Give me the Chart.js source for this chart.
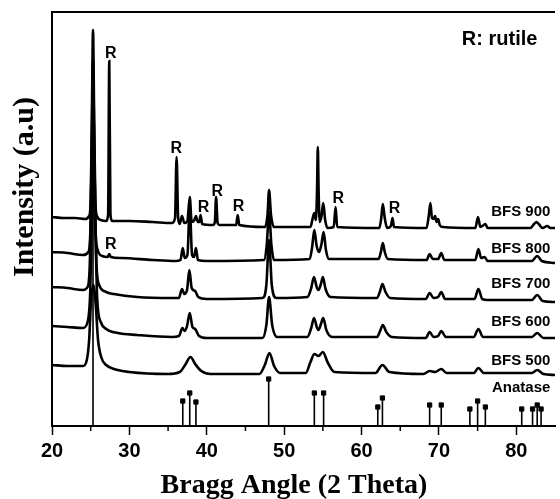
<!DOCTYPE html>
<html><head><meta charset="utf-8">
<script src="https://cdn.jsdelivr.net/npm/chart.js@4.4.1/dist/chart.umd.min.js"></script>
<style>html,body{margin:0;padding:0;background:#fff}canvas{display:block}</style>
</head><body>
<canvas id="c" width="560" height="499"></canvas>
<script>
// ---- data (2-theta, intensity a.u.) ----
const seriesNames = ['BFS 900','BFS 800','BFS 700','BFS 600','BFS 500'];
const seriesOffsets = [198, 163, 124, 88, 51];

const bfs900 = [[20,11],[21.5,10],[23,10],[24.3,9],[24.8,12],[25,28],[25.15,108],[25.3,198],[25.45,108],[25.6,28],[25.8,12],[26.3,8],[27,7],[27.25,13],[27.4,167],[27.55,13],[27.8,7],[30,7],[33,6],[35.5,5],[35.9,10],[36.1,71],[36.3,10],[36.5,4],[36.8,12],[37.1,5],[37.5,7],[37.8,31],[38.05,6],[38.4,8],[38.6,12],[38.85,6],[39.05,6],[39.2,13],[39.4,4],[40.8,3],[41.05,6],[41.2,31],[41.4,5],[41.6,3],[43.8,3],[44,13],[44.2,3],[47.5,1],[47.85,13],[48.05,38],[48.3,13],[48.7,1],[53.4,1],[53.7,10],[53.9,15],[54.1,8],[54.25,38],[54.35,81],[54.45,38],[54.6,6],[54.85,13],[55.05,25],[55.3,8],[55.6,0],[56.4,1],[56.65,21],[56.85,1],[62.3,0],[62.55,10],[62.75,24],[63,10],[63.3,0],[63.8,2],[64,10],[64.2,1],[68.4,0],[68.7,13],[68.9,25],[69.1,10],[69.3,9],[69.5,12],[69.7,6],[69.9,9],[70.1,3],[70.5,1],[74.7,0],[75.05,11],[75.35,1],[75.8,3],[76,4],[76.3,0],[81.8,0],[82.3,4],[82.6,6],[82.9,4],[83.4,0],[84,2],[84.4,0],[85,0]];

const bfs800 = [[20,11],[22,10],[24,8],[24.7,11],[25,43],[25.15,123],[25.3,203],[25.45,123],[25.6,38],[25.9,13],[26.5,7],[27.2,6],[27.4,9],[27.6,6],[29,5],[33,3],[36,2],[36.6,3],[36.9,15],[37.15,5],[37.5,8],[37.8,56],[38.1,8],[38.35,6],[38.6,15],[38.85,3],[40,2],[47.4,3],[47.75,18],[48.05,51],[48.35,18],[48.7,3],[53.3,4],[53.6,15],[53.9,33],[54.2,17],[54.5,11],[54.8,18],[55.1,31],[55.4,13],[55.8,4],[62.2,4],[62.5,11],[62.75,20],[63,11],[63.4,4],[68.4,3],[68.8,9],[69.2,4],[69.9,4],[70.3,10],[70.7,3],[74.7,3],[75.1,14],[75.45,5],[75.9,6],[76.3,2],[82,2],[82.7,7],[83.3,2],[85,0]];

const bfs700 = [[20,15],[22,14],[24,12],[24.6,15],[24.9,42],[25.15,152],[25.3,202],[25.5,132],[25.75,37],[26.1,17],[27,10],[28,8],[31,5],[35.5,4],[36.4,4],[36.8,13],[37.1,8],[37.45,12],[37.75,32],[38.05,14],[38.5,11],[38.9,5],[40,3],[47.2,4],[47.7,17],[48.05,62],[48.4,17],[49,4],[53,5],[53.5,14],[53.85,25],[54.2,15],[54.45,12],[54.75,18],[55,25],[55.35,13],[56,5],[62,4],[62.4,11],[62.7,18],[63.1,10],[63.7,4],[68.3,3],[68.8,9],[69.3,4],[69.9,5],[70.3,10],[70.8,3],[74.6,3],[75.1,13],[75.6,3],[76.3,2],[82,2],[82.7,7],[83.4,1],[85,0]];

const bfs600 = [[20,12],[22,11],[24,10],[24.6,16],[24.95,48],[25.2,138],[25.35,173],[25.55,128],[25.85,38],[26.3,16],[27,9],[28.5,5],[31,3],[35.5,1],[36.4,2],[36.85,10],[37.15,7],[37.45,12],[37.8,25],[38.15,11],[38.5,9],[39,2],[40,0],[47.2,0],[47.7,13],[48.05,41],[48.45,13],[49.1,1],[53,1],[53.5,10],[53.85,20],[54.25,10],[54.45,8],[54.75,14],[55.05,20],[55.45,8],[56.2,1],[62,1],[62.4,7],[62.75,13],[63.2,6],[63.9,1],[68.3,0],[68.8,6],[69.3,1],[69.9,2],[70.3,7],[70.9,1],[74.5,1],[75.1,9],[75.7,1],[82,1],[82.7,5],[83.5,0],[85,0]];

const bfs500 = [[20,10],[22,9],[24,9],[24.5,15],[24.8,35],[25.05,75],[25.35,90],[25.65,70],[25.95,35],[26.4,17],[27,10],[28,6],[30,3],[35,1],[36.5,3],[37.2,10],[37.9,18],[38.5,11],[39.3,4],[40.5,1],[46.8,1],[47.5,10],[48.1,22],[48.7,9],[49.5,2],[52.8,2],[53.4,13],[53.9,21],[54.45,19],[55,23],[55.6,13],[56.5,3],[61.8,2],[62.7,10],[63.6,3],[68,1],[68.8,4],[69.5,3],[70.3,6],[71,2],[74.5,2],[75.1,7],[75.8,2],[82,2],[82.7,5],[83.5,1],[85,0]];

const anataseAngles    = [25.3, 36.9, 37.8, 38.6, 48.0, 53.9, 55.1, 62.1, 62.7, 68.8, 70.3, 74.0, 75.0, 76.0, 80.7, 82.1, 82.7, 83.2];
const anataseIntensity = [390, 25, 33, 24, 47, 33, 33, 19, 28, 21, 21, 17, 25, 19, 17, 17, 21, 17];

const seriesLabelY = [214, 177.5, 142.5, 104, 65.5];
const anataseLabelY = 38;
const labelX = 84.4;

const rutileLabelX = [27.6, 36.06, 39.58, 41.37, 44.12, 56.98, 64.27, 27.61];
const rutileLabelY = [372, 277, 218.5, 234.5, 219, 227, 217, 181.5];
const legendX = 77.84, legendY = 387;

const xTicks = [20, 30, 40, 50, 60, 70, 80];
const xMinorTicks = [25, 35, 45, 55, 65, 75];

// ---- build datasets ----
const seriesData = [bfs900, bfs800, bfs700, bfs600, bfs500];
const datasets = seriesData.map((arr, i) => ({
  type: 'line',
  label: seriesNames[i],
  data: arr.map(([x, y]) => ({x, y: y + seriesOffsets[i]})),
  borderColor: '#000',
  borderWidth: 2.6,
  pointRadius: 0,
  fill: false,
  cubicInterpolationMode: 'monotone'
}));
const stickData = [];
anataseAngles.forEach((a, i) => {
  stickData.push({x: a, y: 0}, {x: a, y: anataseIntensity[i]}, {x: a, y: null});
});
datasets.push({
  type: 'line', label: 'Anatase sticks', data: stickData,
  borderColor: '#000', borderWidth: 1.6, pointRadius: 0, spanGaps: false, tension: 0
});
datasets.push({
  type: 'scatter', label: 'Anatase marks',
  data: anataseAngles.map((a, i) => ({x: a, y: anataseIntensity[i]})),
  pointStyle: 'rect',
  pointRadius: ctx => (ctx.dataIndex === 0 ? 0 : 3),
  pointBorderWidth: ctx => (ctx.dataIndex === 0 ? 0 : 1),
  backgroundColor: '#000', borderColor: '#000'
});

const decor = {
  id: 'decor',
  beforeDraw(chart) {
    const c = chart.ctx;
    c.save(); c.fillStyle = '#fff'; c.fillRect(0, 0, chart.width, chart.height); c.restore();
  },
  afterDraw(chart) {
    const c = chart.ctx, xs = chart.scales.x, ys = chart.scales.y, ca = chart.chartArea;
    c.save();
    // top frame line
    c.strokeStyle = '#000'; c.lineWidth = 2;
    c.beginPath(); c.moveTo(ca.left, ca.top); c.lineTo(ca.right, ca.top); c.stroke();
    // minor ticks
    c.lineWidth = 1.5;
    xMinorTicks.forEach(v => {
      const px = xs.getPixelForValue(v);
      c.beginPath(); c.moveTo(px, ca.bottom); c.lineTo(px, ca.bottom + 5); c.stroke();
    });
    // series labels
    c.fillStyle = '#000';
    c.font = 'bold 15px "Liberation Sans", Arial, sans-serif';
    c.textAlign = 'right'; c.textBaseline = 'middle';
    seriesNames.forEach((n, i) => c.fillText(n, xs.getPixelForValue(labelX), ys.getPixelForValue(seriesLabelY[i])));
    c.fillText('Anatase', xs.getPixelForValue(labelX), ys.getPixelForValue(anataseLabelY));
    // rutile labels
    c.textAlign = 'center';
    c.font = 'bold 16px "Liberation Sans", Arial, sans-serif';
    rutileLabelX.forEach((x, i) => c.fillText('R', xs.getPixelForValue(x), ys.getPixelForValue(rutileLabelY[i])));
    c.font = 'bold 20px "Liberation Sans", Arial, sans-serif';
    c.fillText('R: rutile', xs.getPixelForValue(legendX), ys.getPixelForValue(legendY));
    // axis titles
    c.font = 'bold 28px "Liberation Serif", "Times New Roman", serif';
    c.textBaseline = 'alphabetic';
    c.fillText('Bragg Angle (2 Theta)', 294, 493);
    c.translate(25, 187); c.rotate(-Math.PI / 2);
    c.font = 'bold 30px "Liberation Serif", "Times New Roman", serif';
    c.textBaseline = 'middle';
    c.fillText('Intensity (a.u)', 0, 0);
    c.restore();
  }
};

new Chart(document.getElementById('c'), {
  data: {datasets},
  options: {
    responsive: false, animation: false, devicePixelRatio: 1,
    layout: {padding: {top: 12, right: 0, left: 0, bottom: 0}},
    plugins: {legend: {display: false}, tooltip: {enabled: false}},
    scales: {
      x: {
        type: 'linear', position: 'bottom', min: 20, max: 85,
        afterFit(s) { s.height = 73; },
        afterBuildTicks(s) { s.ticks = xTicks.map(v => ({value: v})); },
        border: {display: true, color: '#000', width: 2},
        grid: {display: true, drawOnChartArea: false, drawTicks: true, tickLength: 9, tickColor: '#000', tickWidth: 1.5},
        ticks: {color: '#000', padding: 4, maxRotation: 0, autoSkip: false,
                font: {family: '"Liberation Sans", Arial, sans-serif', size: 20, weight: 'bold'}}
      },
      y: {
        type: 'linear', position: 'left', min: 0, max: 414,
        afterFit(s) { s.width = 52; },
        border: {display: true, color: '#000', width: 2},
        grid: {display: false},
        ticks: {display: false}
      }
    }
  },
  plugins: [decor]
});
</script>
</body></html>
